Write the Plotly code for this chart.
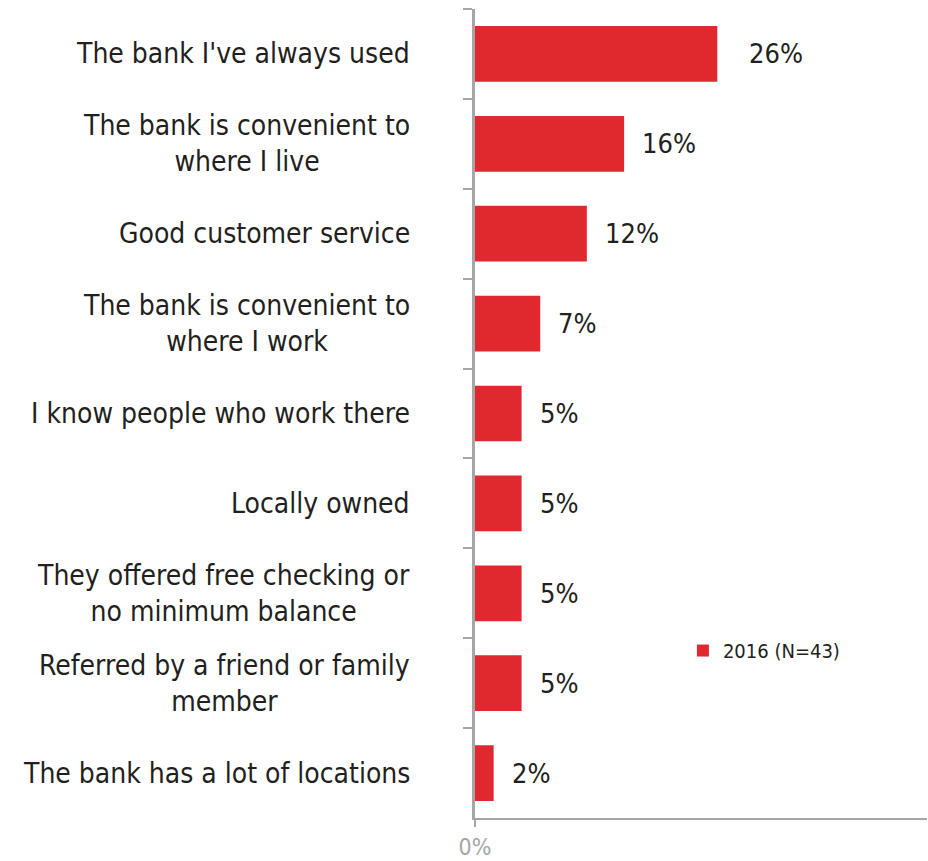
import plotly.graph_objects as go

# Survey: main reason for choosing a bank
categories = [
    "The bank I've always used",
    "The bank is convenient to<br>where I live",
    "Good customer service",
    "The bank is convenient to<br>where I work",
    "I know people who work there",
    "Locally owned",
    "They offered free checking or<br>no minimum balance",
    "Referred by a friend or family<br>member",
    "The bank has a lot of locations",
]
values = [26, 16, 12, 7, 5, 5, 5, 5, 2]
series_name = "2016 (N=43)"

RED = "#E0282F"
GRAY = "#A6A6A6"
TEXT = "#231F20"
FONT = "Liberation Sans Narrow, DejaVu Sans Condensed, Arial Narrow, sans-serif"

fig = go.Figure()
fig.add_trace(go.Bar(
    y=categories,
    x=values,
    orientation="h",
    marker=dict(color=RED, line=dict(width=0)),
    name=series_name,
    showlegend=True,
))

# Category labels (centered multi-line blocks, right-aligned to the axis)
for cat in categories:
    fig.add_annotation(
        x=0, y=cat, xref="x", yref="y",
        text=cat, showarrow=False,
        xanchor="right", yanchor="middle", align="center",
        xshift=-63,
        font=dict(family=FONT, size=28, color=TEXT),
    )

# Value labels beside each bar
for i, (cat, v) in enumerate(zip(categories, values)):
    fig.add_annotation(
        x=v, y=cat, xref="x", yref="y",
        text=f"{v}%", showarrow=False,
        xanchor="left", yanchor="middle",
        xshift=16 if i else 30,
        font=dict(family=FONT, size=27, color=TEXT),
    )

fig.update_layout(
    width=928, height=861,
    margin=dict(l=475, r=1, t=9, b=43),
    paper_bgcolor="white", plot_bgcolor="white",
    bargap=0.38,
    font=dict(family=FONT, color=TEXT),
    xaxis=dict(
        range=[0, 48.5],
        tickvals=[0], ticktext=["0%"],
        ticks="outside", ticklen=7, tickwidth=2, tickcolor=GRAY,
        tickfont=dict(family=FONT, size=23, color=GRAY),
        automargin=False,
        showline=True, linecolor=GRAY, linewidth=2,
        showgrid=False, zeroline=False,
    ),
    yaxis=dict(
        type="category",
        categoryorder="array", categoryarray=categories,
        autorange="reversed",
        showticklabels=False,
        tickson="boundaries",
        ticks="outside", ticklen=9, tickwidth=2, tickcolor=GRAY,
        showline=True, linecolor=GRAY, linewidth=3,
        showgrid=False, zeroline=False,
    ),
    legend=dict(
        x=0.46, y=0.207, xanchor="left", yanchor="middle",
        font=dict(family=FONT, size=20, color=TEXT),
        bgcolor="rgba(0,0,0,0)",
    ),
)

fig.write_html("out.html")
